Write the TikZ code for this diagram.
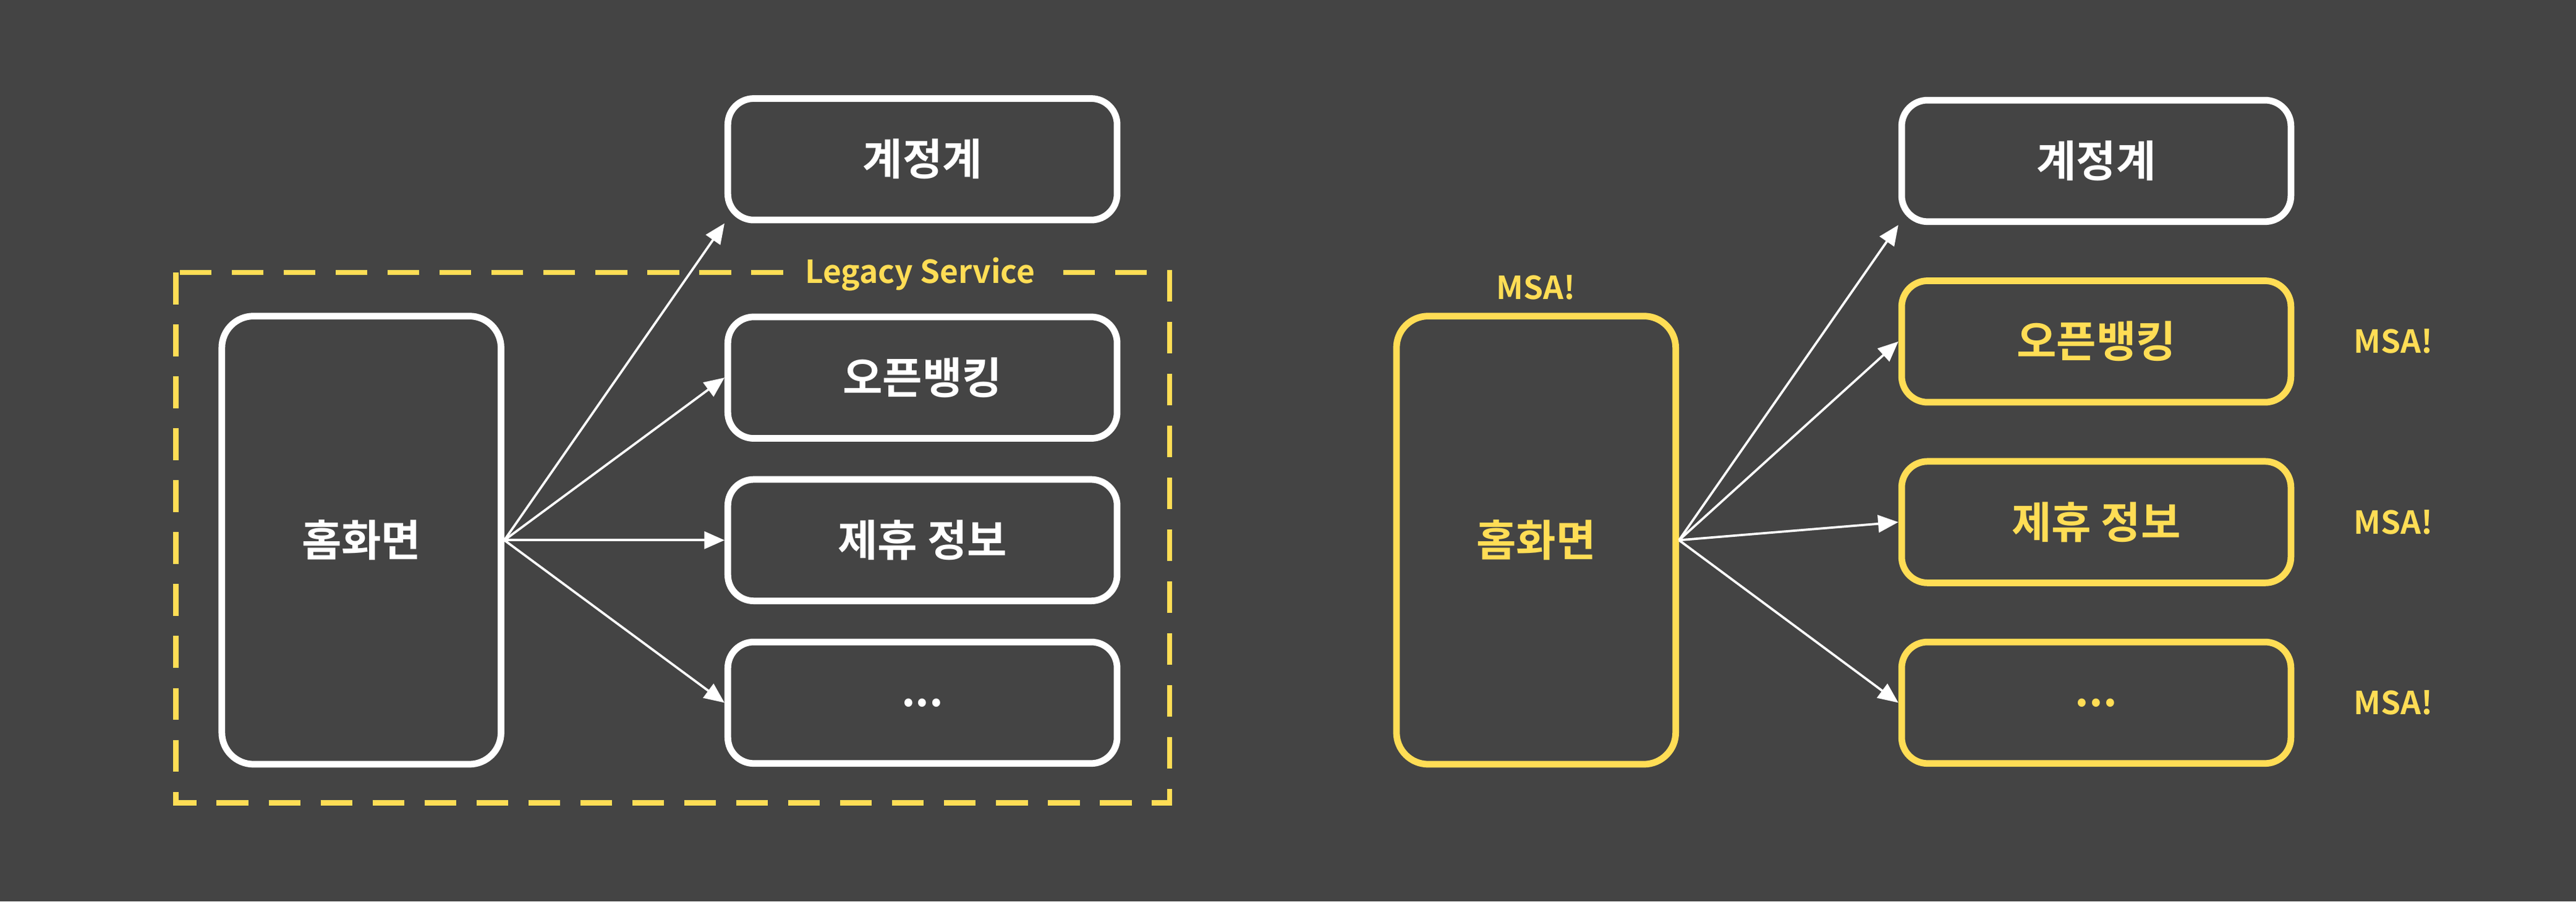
\documentclass[tikz,border=0pt]{standalone}
\usepackage{fontspec}
\setmainfont{Noto Sans CJK KR}[BoldFont={* Bold}]
\usetikzlibrary{arrows.meta,positioning}
\definecolor{bgGray}{HTML}{444444}
\definecolor{msaYellow}{HTML}{FFDD55}
\tikzset{
    box/.style    = {draw=white, line width=2.3pt, rounded corners=9pt,
            minimum width=4.74cm, minimum height=1.48cm,
            text=white, font=\bfseries\fontsize{15}{18}\selectfont},
    home/.style   = {box, minimum width=3.4cm, minimum height=5.46cm, rounded corners=11pt},
    msa/.style    = {draw=msaYellow, text=msaYellow},
    line/.style   = {-{Triangle[length=7pt,width=6pt]}, draw=white, line width=0.8pt},
    tag/.style    = {text=msaYellow, font=\bfseries\fontsize{11}{13}\selectfont},
}
\begin{document}
\begin{tikzpicture}[x=0.02cm, y=-0.02cm]
    \fill[bgGray] (0,0) rectangle (1568,549);
    \useasboundingbox (0,0) rectangle (1568,549);
    % Legacy side
    \draw[msaYellow, line width=1.8pt, dash pattern=on 11pt off 7pt] (107,166) rectangle (712,489);
    \node[tag, fill=bgGray, inner xsep=6pt] (legacy) at (560,167) {Legacy Service};
    \node[home] (homeL) at (220,329) {홈화면};
    \node[box] (accL) at (561.5,97) {계정계};
    \node[box] (obL)  at (561.5,230) {오픈뱅킹};
    \node[box] (affL) at (561.5,329) {제휴 정보};
    \node[box] (etcL) at (561.5,428) {...};
    \draw[line] (homeL.east) -- (accL.south west);
    \draw[line] (homeL.east) -- (obL.west);
    \draw[line] (homeL.east) -- (affL.west);
    \draw[line] (homeL.east) -- (etcL.west);
    % MSA side
    \node[home, msa] (homeR) at (935,329) {홈화면};
    \node[tag, above=1pt of homeR] (msaHome) {MSA!};
    \node[box] (accR) at (1276,98) {계정계};
    \node[box, msa] (obR)  at (1276,208) {오픈뱅킹};
    \node[box, msa] (affR) at (1276,318) {제휴 정보};
    \node[box, msa] (etcR) at (1276,428) {...};
    \node[tag, right=6mm of obR]  (msaOb)  {MSA!};
    \node[tag, right=6mm of affR] (msaAff) {MSA!};
    \node[tag, right=6mm of etcR] (msaEtc) {MSA!};
    \draw[line] (homeR.east) -- (accR.south west);
    \draw[line] (homeR.east) -- (obR.west);
    \draw[line] (homeR.east) -- (affR.west);
    \draw[line] (homeR.east) -- (etcR.west);
\end{tikzpicture}
\end{document}
